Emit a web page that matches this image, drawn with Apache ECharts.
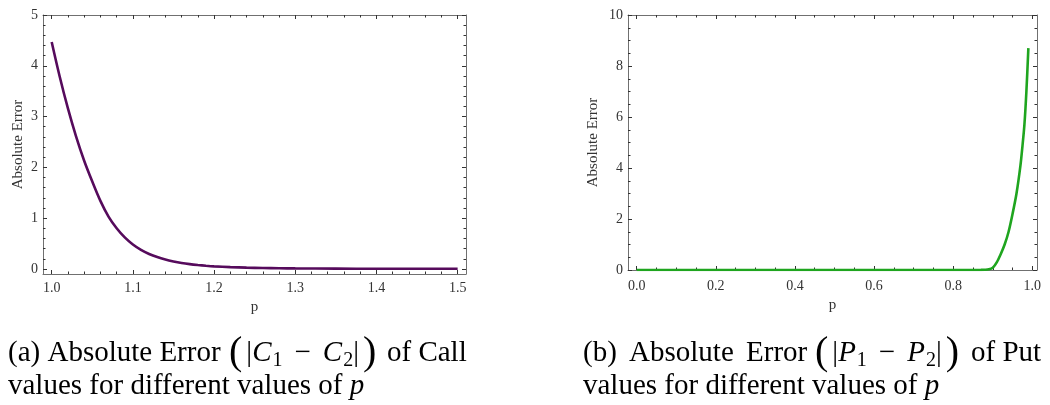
<!DOCTYPE html>
<html>
<head>
<meta charset="utf-8">
<script src="https://cdn.jsdelivr.net/npm/echarts@6/dist/echarts.min.js"></script>
<style>
  html, body { margin: 0; padding: 0; background: #fff; }
  #chart { width: 1050px; height: 405px; }
</style>
</head>
<body>
<div id="chart"></div>
<script>
// (a) call: absolute error against p
const callP = [1.00, 1.01, 1.02, 1.03, 1.04, 1.05, 1.06, 1.07, 1.08, 1.09, 1.10,
  1.11, 1.12, 1.13, 1.14, 1.15, 1.16, 1.17, 1.18, 1.19, 1.20,
  1.22, 1.24, 1.26, 1.28, 1.30, 1.35, 1.40, 1.45, 1.50];
const callErr = [4.47, 3.78, 3.16, 2.61, 2.13, 1.72, 1.34, 1.03, 0.80, 0.62, 0.48,
  0.375, 0.295, 0.233, 0.185, 0.148, 0.118, 0.095, 0.077, 0.062, 0.05,
  0.035, 0.025, 0.018, 0.013, 0.01, 0.006, 0.004, 0.003, 0.002];

// (b) put: absolute error against p
const putP = [0.00, 0.10, 0.20, 0.30, 0.40, 0.50, 0.60, 0.70, 0.80, 0.85, 0.87, 0.88,
  0.89, 0.90, 0.91, 0.92, 0.93, 0.94, 0.95, 0.96, 0.97, 0.975, 0.98, 0.985, 0.99];
const putErr = [0, 0, 0, 0, 0, 0, 0, 0, 0, 0.001, 0.003, 0.008,
  0.025, 0.09, 0.3, 0.62, 1.0, 1.5, 2.2, 3.0, 4.1, 4.85, 5.7, 7.0, 8.7];

// tick labels
const callXTicks = [1.0, 1.1, 1.2, 1.3, 1.4, 1.5];
const callYTicks = [0, 1, 2, 3, 4, 5];
const putXTicks = [0.0, 0.2, 0.4, 0.6, 0.8, 1.0];
const putYTicks = [0, 2, 4, 6, 8, 10];

const SERIF = '"Liberation Serif", "DejaVu Serif", serif';
const FRAME = '#707070';
const INK = '#333';

// minor ticks between the major ones
function minorTicks(major, n, lo, hi) {
  const step = (major[1] - major[0]) / n;
  const out = [];
  for (let v = major[0] - step * n; v <= major[major.length - 1] + step * n + 1e-9; v += step) {
    const r = Math.round(v * 1000) / 1000;
    if (r > lo && r < hi && !major.some(m => Math.abs(m - r) < 1e-6)) out.push(r);
  }
  return out;
}

// four axes for one pair of frame sides: main + minor, opposite + minor
function frameAxes(isX, grid, range, major, nMinor, fmt, label, name) {
  const minor = minorTicks(major, nMinor, range[0], range[1]);
  const pos = isX ? ['bottom', 'top'] : ['left', 'right'];
  const base = {
    type: 'value', gridIndex: grid, min: range[0], max: range[1],
    splitLine: { show: false }
  };
  const mk = (p, vals, len, withLine, withLabel) => Object.assign({}, base, {
    position: p,
    axisLine: { show: withLine, onZero: false, lineStyle: { color: FRAME, width: 1 } },
    axisTick: { show: true, inside: true, length: len, customValues: vals,
      lineStyle: { color: INK, width: 1 } },
    axisLabel: withLabel ? Object.assign({ show: true, customValues: major, formatter: fmt,
      fontFamily: SERIF, fontSize: 14, color: INK }, label) : { show: false },
    name: withLabel ? name.text : '',
    nameLocation: 'middle',
    nameGap: withLabel ? name.gap : 0,
    nameTextStyle: { fontFamily: SERIF, fontSize: 15, color: INK }
  });
  return [
    mk(pos[0], major, 4, true, true),
    mk(pos[0], minor, 2.5, false, false),
    mk(pos[1], major, 4, true, false),
    mk(pos[1], minor, 2.5, false, false)
  ];
}

const fmt1 = v => v.toFixed(1);
const fmt0 = v => String(Math.round(v));

const xAxes = [].concat(
  frameAxes(true, 0, [0.9893, 1.5103], callXTicks, 5, fmt1, { margin: 7 }, { text: 'p', gap: 16 }),
  frameAxes(true, 1, [-0.0219, 1.0118], putXTicks, 4, fmt1, { margin: 9 }, { text: 'p', gap: 22 })
);
const yAxes = [].concat(
  frameAxes(false, 0, [-0.1, 5], callYTicks, 5, fmt0, { margin: 5 }, { text: 'Absolute Error', gap: 17.5 }),
  frameAxes(false, 1, [0, 10], putYTicks, 4, fmt0, { margin: 5 }, { text: 'Absolute Error', gap: 27.5 })
);

const rich = {
  n: { fontFamily: SERIF, fontSize: 29, color: '#000' },
  nw: { fontFamily: SERIF, fontSize: 29, color: '#000', padding: [0, 0, 0, 5] },
  po: { fontFamily: SERIF, fontSize: 40, color: '#000', padding: [0, 4, 0, 0] },
  pc: { fontFamily: SERIF, fontSize: 40, color: '#000', padding: [0, 0, 0, 4] },
  i: { fontFamily: SERIF, fontSize: 29, fontStyle: 'italic', color: '#000' },
  m: { fontFamily: SERIF, fontSize: 29, color: '#000', padding: [0, 12, 0, 12] },
  s: { fontFamily: SERIF, fontSize: 20, color: '#000', padding: [14, 0, 0, 1] }
};

function caption(x, y, text) {
  return { type: 'text', x: x, y: y, style: { text: text, rich: rich, verticalAlign: 'middle', align: 'left' } };
}

const chart = echarts.init(document.getElementById('chart'), null, { renderer: 'canvas' });
chart.setOption({
  animation: false,
  grid: [
    { left: 43, top: 15, width: 423, height: 259, outerBoundsMode: 'none' },
    { left: 628, top: 15, width: 409, height: 255, outerBoundsMode: 'none' }
  ],
  xAxis: xAxes,
  yAxis: yAxes,
  series: [
    {
      type: 'line', xAxisIndex: 0, yAxisIndex: 0, showSymbol: false, smooth: 0.3,
      lineStyle: { color: '#560b5c', width: 2.6 },
      data: callP.map((p, i) => [p, callErr[i]])
    },
    {
      type: 'line', xAxisIndex: 4, yAxisIndex: 4, showSymbol: false, smooth: 0.3,
      lineStyle: { color: '#1fa51f', width: 2.6 },
      data: putP.map((p, i) => [p, putErr[i]])
    }
  ],
  graphic: [
    caption(8, 353.5, '{n|(a) Absolute Error}'),
    caption(229, 353.5, '{po|(}{n||}{i|C}{s|1}{m|−}{i|C}{s|2}{n||}{pc|)}'),
    caption(387, 353.5, '{n|of Call}'),
    caption(8, 386.5, '{n|values for different values of }{i|p}'),
    caption(583, 353.5, '{n|(b) }{nw|Absolute }{nw|Error}'),
    caption(815, 353.5, '{po|(}{n||}{i|P}{s|1}{m|−}{i|P}{s|2}{n||}{pc|)}'),
    caption(971, 353.5, '{n|of Put}'),
    caption(583, 386.5, '{n|values for different values of }{i|p}')
  ]
});
</script>
</body>
</html>
